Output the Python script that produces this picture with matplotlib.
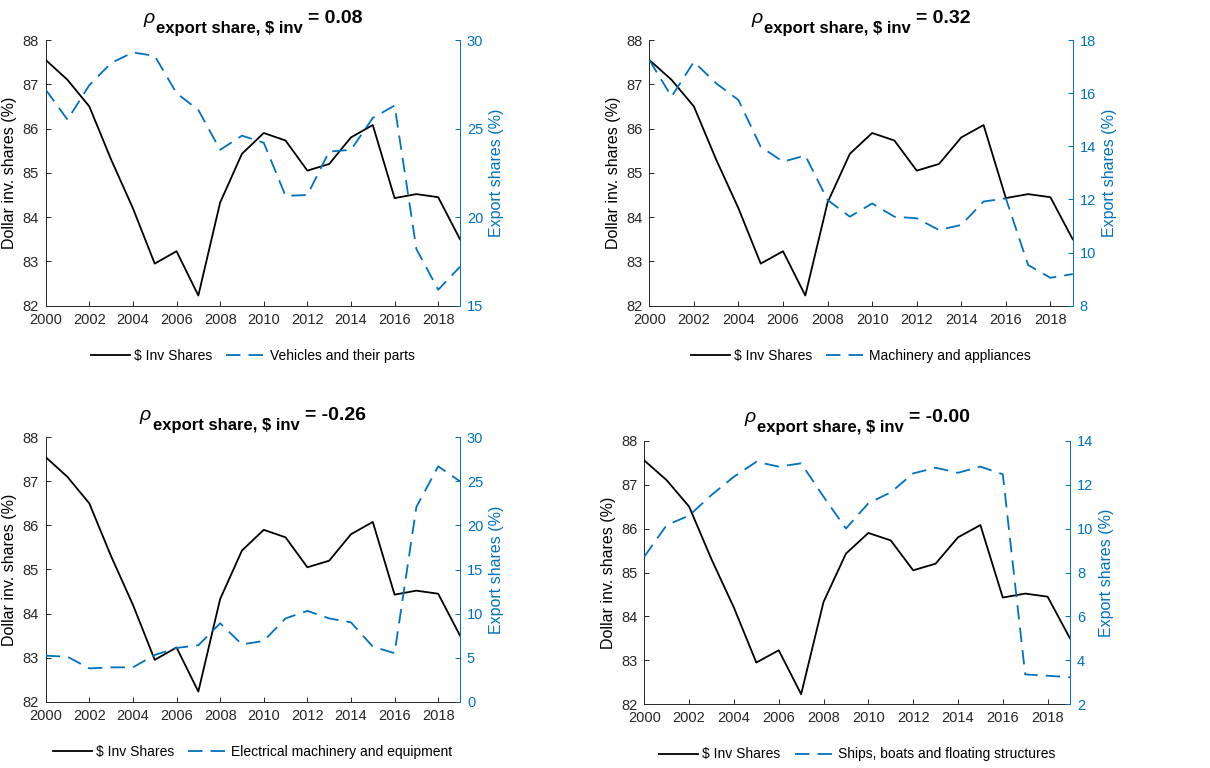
import matplotlib
matplotlib.use('Agg')
import matplotlib.pyplot as plt

plt.rcParams['font.family'] = ['Liberation Sans', 'DejaVu Sans']

years = list(range(2000, 2020))
inv_shares = [87.55, 87.10, 86.50, 85.30, 84.20, 82.95, 83.23, 82.23, 84.33, 85.43,
              85.90, 85.73, 85.05, 85.20, 85.80, 86.08, 84.43, 84.52, 84.45, 83.50]
vehicles = [27.2, 25.5, 27.45, 28.7, 29.3, 29.1, 27.0, 26.05, 23.8, 24.6,
            24.2, 21.2, 21.25, 23.7, 23.8, 25.6, 26.3, 18.2, 15.9, 17.2]
machinery = [17.25, 15.87, 17.18, 16.37, 15.74, 13.98, 13.42, 13.65, 11.98, 11.35,
             11.85, 11.35, 11.29, 10.85, 11.04, 11.92, 12.04, 9.53, 9.05, 9.19]
electrical = [5.22, 5.1, 3.78, 3.9, 3.9, 5.3, 6.1, 6.4, 8.9, 6.5,
              6.9, 9.45, 10.3, 9.45, 9.0, 6.25, 5.5, 22.1, 26.7, 25.0]
ships = [8.72, 10.16, 10.59, 11.53, 12.36, 13.04, 12.82, 12.97, 11.45, 10.0,
         11.15, 11.65, 12.51, 12.77, 12.54, 12.82, 12.47, 3.36, 3.30, 3.23]

export_series = [vehicles, machinery, electrical, ships]
series_names = ["Vehicles and their parts", "Machinery and appliances",
                "Electrical machinery and equipment", "Ships, boats and floating structures"]
rho_values = ["0.08", "0.32", "-0.26", "-0.00"]
right_lims = [(15, 30), (8, 18), (0, 30), (2, 14)]
right_ticks = [list(range(15, 31, 5)), list(range(8, 19, 2)),
               list(range(0, 31, 5)), list(range(2, 15, 2))]
left_ticks = list(range(82, 89))
x_ticks = list(range(2000, 2019, 2))

BLUE = '#0072BD'
DARK = '#262626'
W, H = 1210, 768
fig = plt.figure(figsize=(W / 100, H / 100), dpi=100)

boxes = [(45.7, 40, 460, 305.7), (649.3, 40, 1072.7, 305.7),
         (45.7, 437.3, 460, 701.7), (644.3, 440.7, 1070, 704.3)]
title_base = [23, 23, 420, 422]
sub_drop = 10

renderer = fig.canvas.get_renderer()

for i in range(4):
    l, t, r, b = boxes[i]
    ax = fig.add_axes([l / W, 1 - b / H, (r - l) / W, (b - t) / H])
    ax2 = ax.twinx()
    ln1, = ax.plot(years, inv_shares, color='black', lw=1.3, zorder=3)
    ln2, = ax2.plot(years, export_series[i], color=BLUE, lw=1.3,
                    linestyle=(0, (8, 4.5)))
    ax.set_xlim(2000, 2019)
    ax.set_ylim(82, 88)
    ax.set_yticks(left_ticks)
    ax.set_xticks(x_ticks)
    ax2.set_ylim(*right_lims[i])
    ax2.set_yticks(right_ticks[i])

    for sp in ['top', 'right']:
        ax.spines[sp].set_visible(False)
    for sp in ['left', 'bottom']:
        ax.spines[sp].set_color(DARK)
        ax.spines[sp].set_linewidth(0.7)
    for sp in ['top', 'left', 'bottom']:
        ax2.spines[sp].set_visible(False)
    ax2.spines['right'].set_color(BLUE)
    ax2.spines['right'].set_linewidth(0.7)

    ax.tick_params(axis='both', direction='in', length=3.5, width=0.7,
                   colors=DARK, labelsize=10.5, pad=5)
    ax2.tick_params(axis='y', direction='in', length=3.5, width=0.7,
                    colors=BLUE, labelsize=10.5, pad=5)
    ax.set_ylabel("Dollar inv. shares (%)", fontsize=11.5, color='black', labelpad=4)
    ax2.set_ylabel("Export shares (%)", fontsize=11.5, color=BLUE, labelpad=4)

    leg = ax2.legend([ln1, ln2], ["$ Inv Shares", series_names[i]], ncol=2,
                     loc='center', bbox_to_anchor=(0.5, -0.19), frameon=False,
                     fontsize=10, handlelength=2.8, handletextpad=0.3,
                     columnspacing=1.0)

    # composite title
    cx = (l + r) / 2
    base = title_base[i]
    t_rho = fig.text(0, 0, "ρ", fontsize=14, style='italic', ha='left', va='baseline')
    t_sub = fig.text(0, 0, "export share, $ inv", fontsize=12, fontweight='bold',
                     ha='left', va='baseline')
    t_eq = fig.text(0, 0, "= " + rho_values[i], fontsize=14, fontweight='bold',
                    ha='left', va='baseline')
    w_rho = t_rho.get_window_extent(renderer).width
    w_sub = t_sub.get_window_extent(renderer).width
    w_eq = t_eq.get_window_extent(renderer).width
    gap1, gap2 = 2, 5
    total = w_rho + gap1 + w_sub + gap2 + w_eq
    x0 = cx - total / 2
    t_rho.set_position((x0 / W, 1 - base / H))
    t_sub.set_position(((x0 + w_rho + gap1) / W, 1 - (base + sub_drop) / H))
    t_eq.set_position(((x0 + w_rho + gap1 + w_sub + gap2) / W, 1 - base / H))

fig.savefig('out.png', dpi=100)
